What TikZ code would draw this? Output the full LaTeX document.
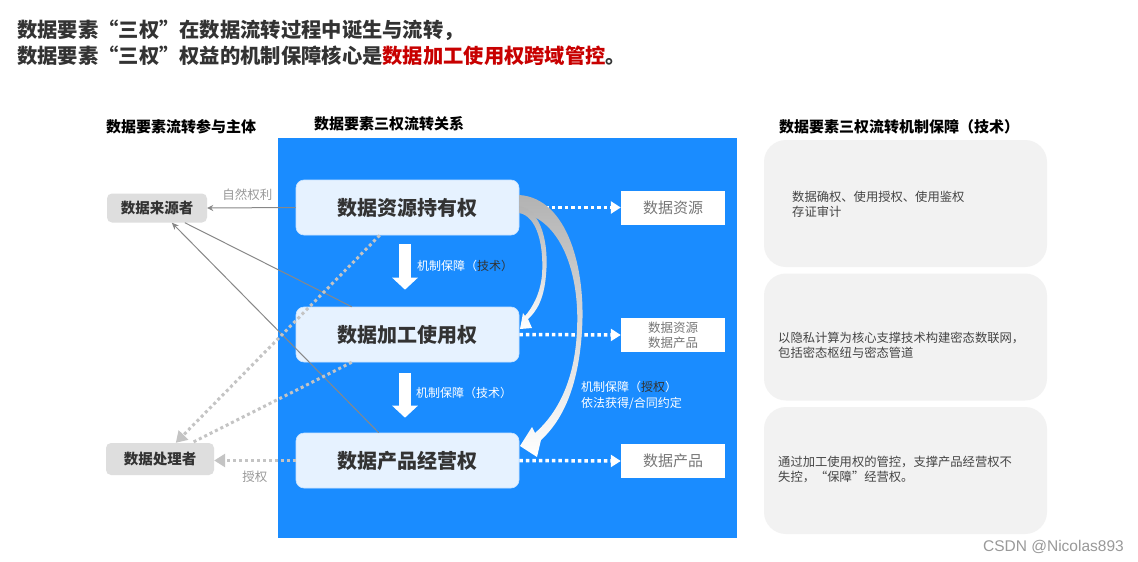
\documentclass[tikz,border=0pt]{standalone}
\usepackage{fontspec}
\setmainfont{Noto Sans CJK SC}
\newfontfamily\wmfont{Liberation Sans}
\usetikzlibrary{arrows.meta,calc}
\definecolor{bgblue}{HTML}{1A8CFF}
\definecolor{boxblue}{HTML}{E6F2FF}
\definecolor{greybox}{HTML}{DEDEDE}
\definecolor{panelgray}{HTML}{F2F2F2}
\definecolor{darktxt}{HTML}{333333}
\definecolor{paneltxt}{HTML}{444444}
\definecolor{linegray}{HTML}{888888}
\definecolor{dotgray}{HTML}{C4C4C4}
\definecolor{labelgray}{HTML}{999999}
\definecolor{outtxt}{HTML}{777777}
\definecolor{titlered}{HTML}{C80000}
\tikzset{
  rightsbox/.style={rectangle, rounded corners=8pt, fill=boxblue, draw=boxblue!85!bgblue, line width=0.6pt,
    minimum width=223pt, minimum height=55pt, inner sep=0pt,
    font=\fontsize{20}{24}\selectfont\bfseries, text=darktxt},
  actorbox/.style={rectangle, rounded corners=5pt, fill=greybox, inner sep=0pt,
    font=\fontsize{14.5}{17}\selectfont\bfseries, text=darktxt},
  outbox/.style={rectangle, fill=white, inner sep=0pt, minimum width=104pt, minimum height=34pt,
    text=outtxt, align=center},
  panelbox/.style={rectangle, rounded corners=22pt, fill=panelgray, inner sep=0pt,
    minimum width=283pt, minimum height=127pt},
  paneltext/.style={anchor=west, align=left, inner sep=0pt, text=paneltxt,
    font=\fontsize{12.3}{15}\selectfont},
  header/.style={anchor=west, inner sep=0pt, text=black, font=\fontsize{15}{18}\selectfont\bfseries},
  gline/.style={draw=linegray, line width=1pt},
  gdot/.style={draw=dotgray, line width=3pt, dash pattern=on 3pt off 3pt},
  wdot/.style={draw=white, line width=3.5pt, dash pattern=on 3.5pt off 3pt,
    -{Triangle[width=12pt,length=10pt]}},
  blockarrow/.style={draw=white, line width=12pt, -{Triangle[width=25pt,length=12pt]}},
  smalllabel/.style={anchor=west, inner sep=0pt, font=\fontsize{12}{15.5}\selectfont, text=white, align=left},
  titletext/.style={anchor=west, inner sep=0pt, text=darktxt, font=\fontsize{20.3}{24}\selectfont\bfseries},
}
\begin{document}
\begin{tikzpicture}[x=1pt,y=-1pt]
\useasboundingbox (0,0) rectangle (1138,562);
\fill[white] (0,0) rectangle (1138,562);

% titles
\node[titletext] (t1) at (17,30) {数据要素“三权”在数据流转过程中诞生与流转，};
\node[titletext] (t2) at (17,56) {数据要素“三权”权益的机制保障核心是\textcolor{titlered}{数据加工使用权跨域管控}。};

% headers
\node[header] (h1) at (106,127) {数据要素流转参与主体};
\node[header] (h2) at (314,124) {数据要素三权流转关系};
\node[header] (h3) at (779,127) {数据要素三权流转机制保障（技术）};

% blue background
\fill[bgblue] (278,138) rectangle (737,538);

% main boxes
\node[rightsbox] (b1) at (407.5,207.5) {数据资源持有权};
\node[rightsbox] (b2) at (407.5,334.5) {数据加工使用权};
\node[rightsbox] (b3) at (407.5,460.5) {数据产品经营权};

% actors
\node[actorbox, minimum width=100pt, minimum height=29pt] (src) at (157,208) {数据来源者};
\node[actorbox, minimum width=108pt, minimum height=32pt] (proc) at (160,459) {数据处理者};

% outputs
\node[outbox, font=\fontsize{15}{18}\selectfont] (r1) at (673,207.5) {数据资源};
\node[outbox, font=\fontsize{12.5}{15}\selectfont] (r2) at (673,335) {数据资源\\数据产品};
\node[outbox, font=\fontsize{15}{18}\selectfont] (r3) at (673,461) {数据产品};

% right panels
\node[panelbox] (p1) at (905.5,203.5) {};
\node[panelbox] (p2) at (905.5,337) {};
\node[panelbox] (p3) at (905.5,470.5) {};
\node[paneltext] (p1t) at (792,204.5) {数据确权、使用授权、使用鉴权\\存证审计};
\node[paneltext] (p2t) at (778,345.5) {以隐私计算为核心支撑技术构建密态数联网，\\包括密态枢纽与密态管道};
\node[paneltext] (p3t) at (778,469.5) {通过加工使用权的管控，支撑产品经营权不\\失控，“保障”经营权。};

% block arrows between boxes
\draw[blockarrow, shorten <=9pt, shorten >=17pt] ([xshift=-2.5pt]b1.south) -- ([xshift=-2.5pt]b2.north);
\draw[blockarrow, shorten <=11pt, shorten >=15pt] ([xshift=-2.5pt]b2.south) -- ([xshift=-2.5pt]b3.north);
\node[smalllabel] (l1) at (417,266) {机制保障（\textcolor{darktxt}{技术）}};
\node[smalllabel] (l2) at (416,393) {机制保障（技术）};

% right dotted arrows
\draw[wdot] (b1.east) -- (r1.west);
\draw[wdot] (b2.east) -- (r2.west);
\draw[wdot] (b3.east) -- (r3.west);

% left connectors
\draw[gline, -{Stealth[width=6pt,length=6pt]}] (b1.west) -- (src.east)
  node[midway, xshift=-4pt, yshift=13pt, inner sep=0pt, text=labelgray, font=\fontsize{12.5}{15}\selectfont] {自然权利};
\draw[gline] ([xshift=56pt]b2.north west) -- ([xshift=78pt]src.south west);
\draw[gline, -{Stealth[width=6pt,length=7pt]}] ([xshift=83pt]b3.north west) -- ([xshift=65pt]src.south west);
\draw[gdot, -{Triangle[width=13pt,length=11pt]}] ([xshift=84pt]b1.south west) -- ([xshift=70pt]proc.north west);
\draw[gdot] ([xshift=56pt]b2.south west) -- ([xshift=86pt]proc.north west);
\draw[gdot, -{Triangle[width=13pt,length=11pt]}] (b3.west) -- (proc.east |- b3.west)
  node[midway, yshift=-16pt, inner sep=0pt, text=labelgray, font=\fontsize{12.5}{15}\selectfont] {授权};

% curved authorization arrows
\shade[top color=black!30, middle color=black!20, bottom color=white]
  (519,195) .. controls (568,198) and (586,270) .. (582,330)
  .. controls (579,382) and (565,418) .. (541,440)
  -- (537,457) -- (520,446) -- (532,427) -- (535,433)
  .. controls (559,412) and (575,378) .. (577,330)
  .. controls (580,272) and (560,218) .. (519,212) -- cycle;
\shade[top color=black!30, bottom color=white]
  (519,206) .. controls (542,210) and (549,245) .. (546,275)
  .. controls (544,300) and (536,312) .. (528,319)
  -- (532,328) -- (520,329) -- (523,313) -- (525,316)
  .. controls (532,308) and (540,295) .. (542,275)
  .. controls (544,245) and (537,216) .. (519,213) -- cycle;
\node[smalllabel] (l3) at (581,395.5) {机制保障（\textcolor{darktxt}{授权}）\\依法获得/合同约定};

% watermark
\node[anchor=east, inner sep=0pt, text=black!40, font=\wmfont\fontsize{15.5}{18}\selectfont] (wm) at (1124,547) {CSDN @Nicolas893};
\end{tikzpicture}
\end{document}
